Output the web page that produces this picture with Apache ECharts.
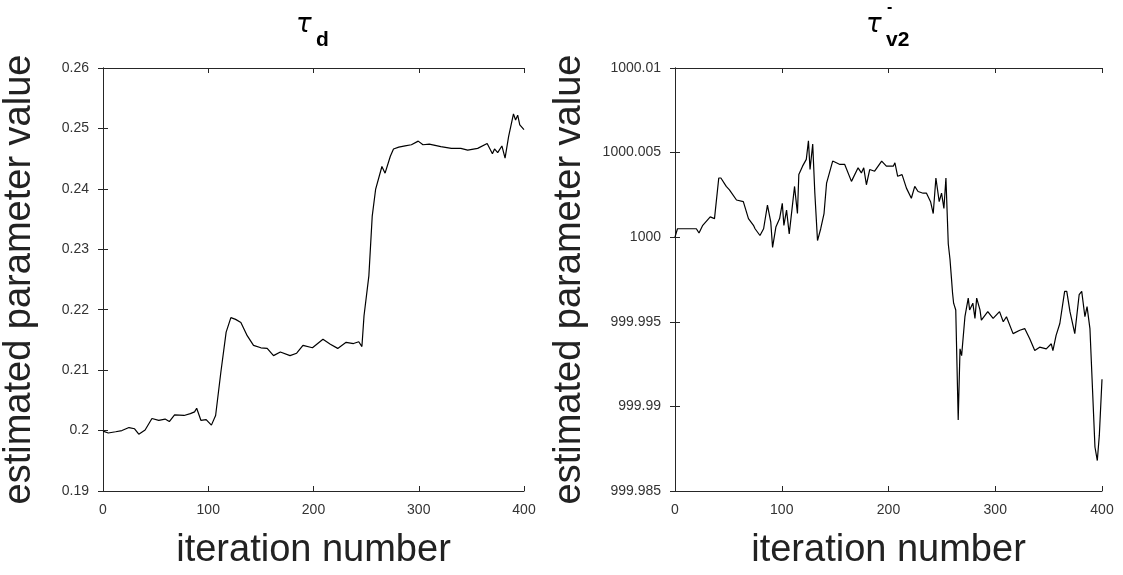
<!DOCTYPE html>
<html>
<head>
<meta charset="utf-8">
<script src="https://cdn.jsdelivr.net/npm/echarts@6/dist/echarts.min.js"></script>
<style>html,body{margin:0;padding:0;background:#fff;}#c{width:1123px;height:575px;}</style>
</head>
<body>
<div id="c"></div>
<script>
// ---- data ----
const xTicks = [0, 100, 200, 300, 400];
const leftYTicks = [0.19, 0.20, 0.21, 0.22, 0.23, 0.24, 0.25, 0.26];
const rightYTicks = [999.985, 999.99, 999.995, 1000, 1000.005, 1000.01];

const iterD = [0, 5, 12, 18, 24.7, 30, 34, 40, 46.5, 53, 59, 63, 68, 77, 83, 87, 89, 93, 98, 103, 107, 112, 117, 121.5, 126, 131, 137, 143, 150, 156, 162, 168.5, 177.7, 184, 190, 199, 209, 216, 223, 231, 238, 243, 246, 248, 252.6, 255.8, 259, 265, 268, 273, 276, 281, 287, 293, 299.5, 304, 310, 321, 331, 340, 346.5, 356, 365, 370, 372, 375, 379, 382, 385.4, 390, 392, 394, 396, 400];
const tauD = [0.1999, 0.1996, 0.1998, 0.2000, 0.2005, 0.2003, 0.1994, 0.2001, 0.2020, 0.2017, 0.2019, 0.2015, 0.2026, 0.2025, 0.2028, 0.2031, 0.2037, 0.2017, 0.2018, 0.2009, 0.2025, 0.2097, 0.2163, 0.2187, 0.2184, 0.2179, 0.2157, 0.2141, 0.2137, 0.2136, 0.2124, 0.2130, 0.2124, 0.2128, 0.2141, 0.2137, 0.2151, 0.2143, 0.2136, 0.2146, 0.2144, 0.2147, 0.2139, 0.2190, 0.2256, 0.2355, 0.2399, 0.2437, 0.2426, 0.2454, 0.2466, 0.2469, 0.2471, 0.2473, 0.2479, 0.2473, 0.2474, 0.2470, 0.2467, 0.2467, 0.2464, 0.2467, 0.2475, 0.2458, 0.2466, 0.2460, 0.2471, 0.2451, 0.2487, 0.2524, 0.2514, 0.2522, 0.2506, 0.2498];

const iterV2 = [0, 2.3, 11, 20, 22.5, 26, 33, 37, 41, 43, 48, 51, 57.6, 64, 68.8, 73.5, 75, 79.6, 83, 86.6, 89.7, 91.4, 94.5, 98, 100.5, 102, 104.5, 107, 112, 114.7, 116, 119.5, 123, 125, 126.5, 129, 131, 133.5, 136.5, 139.6, 142, 147.7, 154.5, 159, 165.3, 171.5, 174.6, 176.8, 179.3, 182.4, 187, 193.6, 198, 204.5, 206, 208.6, 212.7, 216.8, 221.4, 224.6, 227.7, 232.4, 235.6, 239.4, 241.9, 244.4, 247.5, 249.7, 251.9, 253.8, 256, 257.6, 259, 260, 261, 263, 265.3, 267, 268.5, 271.6, 274.7, 276, 279, 281, 282.6, 285.7, 287, 293, 298, 304, 307.5, 310.5, 316.7, 323, 327.6, 332.3, 337, 341.6, 347.8, 352.5, 354, 357, 360.5, 365, 367, 370, 374.5, 378.6, 381, 384, 386, 388.7, 393.4, 395.6, 397.5, 400];
const tauV2 = [1000.0000, 1000.0005, 1000.0005, 1000.0005, 1000.00025, 1000.0007, 1000.0012, 1000.0011, 1000.0035, 1000.0035, 1000.0030, 1000.0028, 1000.0022, 1000.0021, 1000.0011, 1000.0007, 1000.0005, 1000.0001, 1000.0005, 1000.0019, 1000.0009, 999.9994, 1000.0006, 1000.0011, 1000.0020, 1000.0007, 1000.0016, 1000.0002, 1000.0030, 1000.0014, 1000.0037, 1000.0042, 1000.0046, 1000.0057, 1000.0040, 1000.0055, 1000.0026, 999.9998, 1000.0005, 1000.0014, 1000.0032, 1000.0045, 1000.0043, 1000.0043, 1000.0033, 1000.0041, 1000.0038, 1000.0041, 1000.0031, 1000.0040, 1000.0039, 1000.0045, 1000.0042, 1000.0042, 1000.0044, 1000.0036, 1000.0037, 1000.0029, 1000.0023, 1000.0030, 1000.0027, 1000.0026, 1000.0026, 1000.0021, 1000.0014, 1000.0035, 1000.0021, 1000.0026, 1000.0017, 1000.0035, 999.9996, 999.9987, 999.99755, 999.9967, 999.9961, 999.9957, 999.9892, 999.9934, 999.9930, 999.9953, 999.9964, 999.9957, 999.9961, 999.9952, 999.9964, 999.9957, 999.9951, 999.9956, 999.9952, 999.9956, 999.9950, 999.9953, 999.9943, 999.9945, 999.9946, 999.9940, 999.9933, 999.9935, 999.9934, 999.9937, 999.9933, 999.9942, 999.9949, 999.9968, 999.9968, 999.9956, 999.9943, 999.9966, 999.9968, 999.9953, 999.9959, 999.9946, 999.9876, 999.9868, 999.9883, 999.9916];

const xName = 'iteration number';
const yName = 'estimated parameter value';
const titleMain = 'τ';
const subD = 'd';
const subV2 = 'v2';
const supV2 = '-';

// ---- chart ----
const AX = '#262626';
const FONT = 'Liberation Sans, Arial, sans-serif';
const pairs = (xs, ys) => xs.map((x, i) => [x, ys[i]]);

function xAx(gi, pos, showLab) {
  return {
    type: 'value', gridIndex: gi, position: pos,
    min: xTicks[0], max: xTicks[xTicks.length - 1], interval: xTicks[1] - xTicks[0],
    name: showLab ? xName : '', nameLocation: 'middle', nameGap: 41,
    nameTextStyle: { fontFamily: FONT, fontSize: 38, color: '#222' },
    axisLine: { show: true, lineStyle: { color: AX, width: 1 } },
    axisTick: { show: true, inside: true, length: 5, lineStyle: { color: AX } },
    axisLabel: { show: showLab, margin: 12, fontFamily: FONT, fontSize: 14, color: '#333' },
    splitLine: { show: false }
  };
}
function yAx(gi, pos, ticks, showLab, nameGap, dec) {
  return {
    type: 'value', gridIndex: gi, position: pos,
    min: ticks[0], max: ticks[ticks.length - 1], interval: +(ticks[1] - ticks[0]).toFixed(6),
    name: showLab ? yName : '', nameLocation: 'middle', nameGap: nameGap,
    nameTextStyle: { fontFamily: FONT, fontSize: 38, color: '#222' },
    axisLine: { show: true, lineStyle: { color: AX, width: 1 } },
    axisTick: { show: true, inside: true, length: 5, lineStyle: { color: AX } },
    axisLabel: { show: showLab, margin: 14, fontFamily: FONT, fontSize: 14, color: '#333' ,
      formatter: v => String(+(+v).toFixed(dec)) },
    splitLine: { show: false }
  };
}
const tauStyle = { fontFamily: 'DejaVu Sans', fontStyle: 'italic', fontWeight: 'normal', fontSize: 26, lineHeight: 26, color: '#000' };
const subStyle = { fontFamily: FONT, fontWeight: 'bold', fontSize: 21, lineHeight: 21, color: '#000' };

const chart = echarts.init(document.getElementById('c'), null, { renderer: 'canvas' });
chart.setOption({
  animation: false,
  backgroundColor: '#fff',
  title: [
    { text: titleMain, left: 291, top: 7, textStyle: tauStyle },
    { text: subD, left: 311, top: 25, textStyle: subStyle },
    { text: titleMain, left: 861, top: 7, textStyle: tauStyle },
    { text: subV2, left: 881, top: 25, textStyle: subStyle },
    { text: supV2, left: 882, top: -5,
      textStyle: { fontFamily: FONT, fontWeight: 'bold', fontSize: 16, lineHeight: 16, color: '#000' } }
  ],
  grid: [
    { left: 97, right: 599, top: 68, bottom: 82, show: false },
    { left: 675, right: 21, top: 68, bottom: 82, show: false }
  ],
  xAxis: [xAx(0, 'bottom', true), xAx(0, 'top', false), xAx(1, 'bottom', true), xAx(1, 'top', false)],
  yAxis: [
    yAx(0, 'left', leftYTicks, true, 64, 2), yAx(0, 'right', leftYTicks, false, 0, 2),
    yAx(1, 'left', rightYTicks, true, 86, 3), yAx(1, 'right', rightYTicks, false, 0, 3)
  ],
  series: [
    { type: 'line', xAxisIndex: 0, yAxisIndex: 0, data: pairs(iterD, tauD), showSymbol: false,
      lineStyle: { color: '#000', width: 1.2 } },
    { type: 'line', xAxisIndex: 2, yAxisIndex: 2, data: pairs(iterV2, tauV2), showSymbol: false,
      lineStyle: { color: '#000', width: 1.2 } }
  ]
});
</script>
</body>
</html>
